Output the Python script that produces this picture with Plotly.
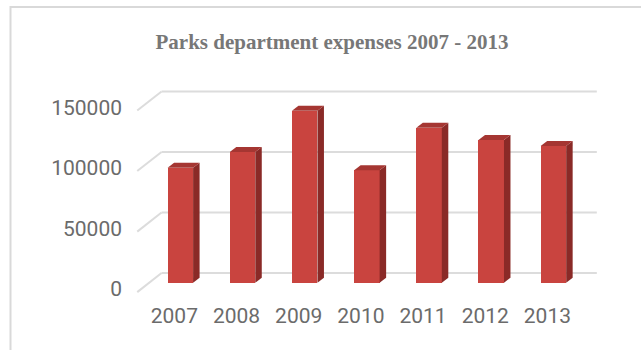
import plotly.graph_objects as go

# ---- data ----
years = ["2007", "2008", "2009", "2010", "2011", "2012", "2013"]
expenses = [95000, 108000, 142000, 93000, 128000, 118000, 113000]
y_tick_values = [0, 50000, 100000, 150000]
y_tick_labels = ["0", "50000", "100000", "150000"]

# ---- page / axis geometry ----
W, H = 641, 350
ML, MR, MT, MB = 125, 31, 80, 50
X_RANGE = [-0.89, 6.91]
Y_RANGE = [-14300, 167500]
PLOT_W = W - ML - MR
PLOT_H = H - MT - MB
PX_X = PLOT_W / (X_RANGE[1] - X_RANGE[0])   # pixels per x unit
PX_Y = PLOT_H / (Y_RANGE[1] - Y_RANGE[0])   # pixels per y unit


def dx(px):
    return px / PX_X


def dy(px):
    return px / PX_Y


BAR_W = 0.41
BAR_DEPTH = (6.5, 5.0)        # side/top face offset of each column, px
BACK_WALL = (12.3, 9.7)       # back wall offset from the column plane, px
FRONT_EDGE = (-12.0, -9.4)    # front edge of the side wall, px

FRONT = "#c9443f"
SIDE = "#8a2a27"
TOP = "#a53632"
GRID = "#dcdcdc"

xs = list(range(len(years)))

fig = go.Figure()
fig.add_trace(go.Bar(
    x=xs, y=expenses, width=BAR_W,
    marker=dict(color=FRONT, line=dict(width=0)),
    hoverinfo="skip",
))

shapes = []

# back wall gridlines and the receding side-wall lines
for v in y_tick_values:
    shapes.append(dict(
        type="line", xref="x", yref="y", layer="below",
        x0=-0.5 + dx(BACK_WALL[0]), x1=len(years) - 0.5 + dx(BACK_WALL[0]),
        y0=v + dy(BACK_WALL[1]), y1=v + dy(BACK_WALL[1]),
        line=dict(color=GRID, width=2),
    ))
    shapes.append(dict(
        type="line", xref="x", yref="y", layer="below",
        x0=-0.5 + dx(FRONT_EDGE[0]), y0=v + dy(FRONT_EDGE[1]),
        x1=-0.5 + dx(BACK_WALL[0]), y1=v + dy(BACK_WALL[1]),
        line=dict(color=GRID, width=2),
    ))

# side and top faces of each column
ox, oy = dx(BAR_DEPTH[0]), dy(BAR_DEPTH[1])
for x, v in zip(xs, expenses):
    xl, xr = x - BAR_W / 2, x + BAR_W / 2
    shapes.append(dict(
        type="path", xref="x", yref="y", layer="above",
        path=f"M{xr},0 L{xr + ox},{oy} L{xr + ox},{v + oy} L{xr},{v} Z",
        fillcolor=SIDE, line=dict(width=0),
    ))
    shapes.append(dict(
        type="path", xref="x", yref="y", layer="above",
        path=f"M{xl},{v} L{xr},{v} L{xr + ox},{v + oy} L{xl + ox},{v + oy} Z",
        fillcolor=TOP, line=dict(width=0),
    ))

# chart frame
shapes.append(dict(
    type="rect", xref="paper", yref="paper", layer="below",
    x0=(10.5 - ML) / PLOT_W, x1=(W + 40 - ML) / PLOT_W,
    y0=(H - MB - (H + 40)) / PLOT_H, y1=(H - MB - 7) / PLOT_H,
    line=dict(color="#d9d9d9", width=2), fillcolor="rgba(0,0,0,0)",
))

tick_font = dict(family="Roboto, sans-serif", size=21, color="#6b6b6b")

fig.update_layout(
    width=W, height=H,
    margin=dict(l=ML, r=MR, t=MT, b=MB, pad=0),
    paper_bgcolor="white", plot_bgcolor="white",
    showlegend=False,
    bargap=0,
    title=dict(
        text="<b>Parks department expenses 2007 - 2013</b>",
        x=332 / W, xanchor="center", y=1 - 42 / H, yanchor="middle",
        font=dict(family="Liberation Serif, Times New Roman, serif", size=21, color="#777777"),
    ),
    xaxis=dict(
        range=X_RANGE, tickvals=xs, ticktext=years,
        showgrid=False, zeroline=False, showline=False, ticks="",
        tickfont=tick_font, ticklabelshift=-6, ticklabelstandoff=1,
        fixedrange=True,
    ),
    yaxis=dict(
        range=Y_RANGE, tickvals=y_tick_values, ticktext=y_tick_labels,
        showgrid=False, zeroline=False, showline=False, ticks="",
        tickfont=tick_font, ticklabelshift=6, ticklabelstandoff=2,
        fixedrange=True,
    ),
    shapes=shapes,
)

fig.write_html("out.html")
